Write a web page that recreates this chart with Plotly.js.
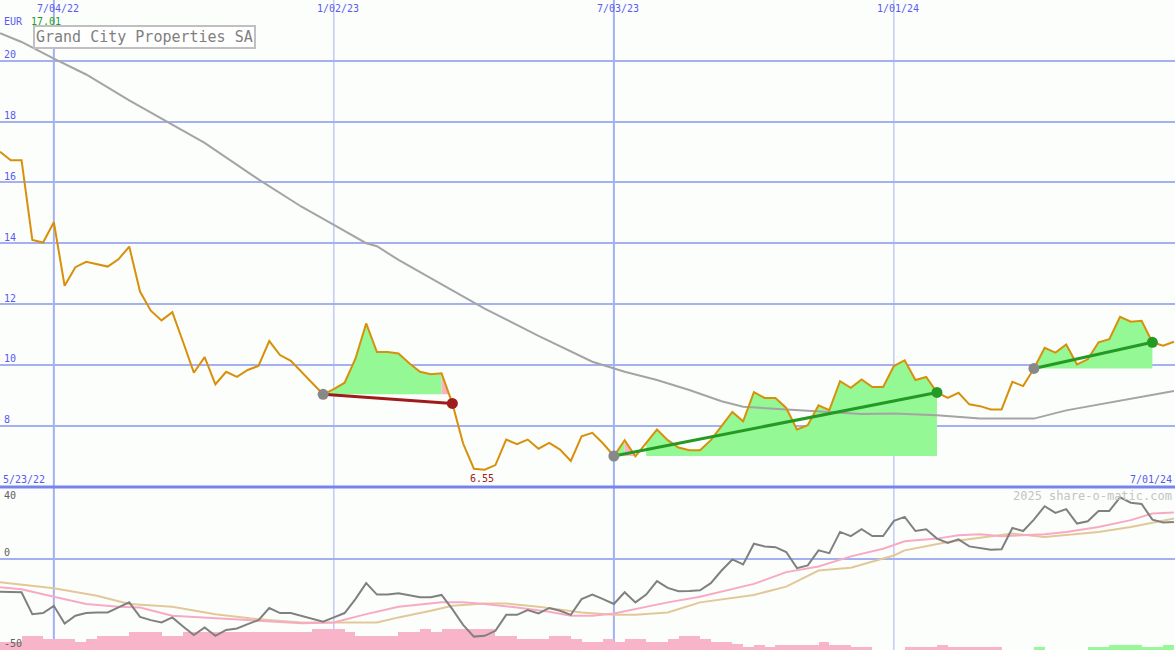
<!DOCTYPE html>
<html><head><meta charset="utf-8">
<script src="https://cdn.plot.ly/plotly-3.0.1.min.js"></script>
<style>html,body{margin:0;padding:0;background:#fcfefc}</style>
</head><body><div id="chart" style="width:1175px;height:650px"></div>
<script>
// ---------- DATA ----------
const startDate = '2022-05-30';           // first weekly observation
const stockName = 'Grand City Properties SA';
const currency = 'EUR';
const price = [17.01,16.73,16.73,14.11,14.02,14.69,12.60,13.21,13.39,13.30,
  13.23,13.47,13.89,12.41,11.78,11.46,11.73,10.75,9.74,10.25,
  9.36,9.77,9.60,9.83,9.96,10.78,10.32,10.13,9.76,9.42,
  9.03,9.20,9.41,10.20,11.36,10.42,10.42,10.37,10.05,9.77,
  9.69,9.72,8.73,7.41,6.58,6.55,6.70,7.54,7.39,7.54,
  7.24,7.43,7.21,6.84,7.65,7.76,7.41,7.00,7.52,6.99,
  7.43,7.87,7.52,7.28,7.19,7.19,7.52,7.98,8.45,8.14,
  9.10,8.91,8.91,8.58,7.87,8.01,8.67,8.51,9.46,9.24,
  9.52,9.27,9.27,9.96,10.15,9.50,9.60,9.09,8.91,9.08,
  8.70,8.64,8.53,8.53,9.44,9.30,9.88,10.56,10.40,10.67,
  10.01,10.18,10.74,10.84,11.58,11.42,11.45,10.74,10.63,10.76];
const maWeeks = [0,2,5,8,12,16,19,24,28,31,34,35,37,42,45,50,55,58,61,64,67,69,73,77,80,83,87,91,96,99,104,109];
const maVals  = [20.91,20.62,20.07,19.55,18.70,17.90,17.30,16.10,15.20,14.60,14.00,13.90,13.45,12.45,11.85,10.95,10.10,9.77,9.50,9.17,8.80,8.62,8.54,8.45,8.38,8.40,8.34,8.23,8.23,8.50,8.82,9.14];
const osc = [-17.8,-18.0,-18.1,-30.2,-29.6,-25.6,-35.4,-31.1,-29.6,-29.3,
  -29.3,-26.5,-23.7,-31.7,-33.5,-34.8,-32.0,-37.0,-41.7,-37.6,
  -42.2,-38.9,-38.1,-35.7,-33.5,-26.8,-29.6,-29.6,-31.1,-33.0,
  -34.4,-32.0,-29.6,-21.9,-13.1,-19.4,-19.4,-18.7,-20.0,-20.9,
  -20.9,-19.6,-27.4,-36.1,-42.6,-42.2,-39.4,-30.6,-30.6,-28.0,
  -29.8,-26.8,-28.3,-30.6,-21.9,-19.4,-21.9,-24.6,-18.1,-23.7,
  -19.4,-12.0,-15.7,-17.6,-17.4,-17.0,-13.1,-6.1,0.0,-2.8,
  8.7,7.2,6.8,4.1,-4.8,-3.3,5.0,3.5,15.2,12.9,
  16.7,12.9,12.9,21.3,23.5,15.7,16.7,11.5,9.1,11.1,
  7.2,6.5,5.4,5.6,17.4,15.7,22.0,29.4,25.7,27.8,
  19.8,21.1,26.8,26.8,34.3,31.3,30.6,22.0,20.4,20.7];
const pinkWeeks = [0,2,5,8,11,13,16,20,24,28,31,34,37,41,43,45,48,51,53,55,57,59,62,65,70,73,76,79,82,84,87,89,91,93,97,99,102,105,107,109];
const pinkVals  = [-15.4,-16.5,-20.6,-24.6,-26.1,-26.5,-31.1,-32.6,-33.9,-35.2,-34.8,-30.2,-26.1,-23.7,-23.7,-24.6,-26.5,-28.9,-31.1,-31.1,-29.8,-27.4,-23.7,-20.6,-13.5,-7.0,-3.9,1.7,5.9,10.0,11.5,13.3,13.9,12.8,13.9,15.2,17.9,21.7,25.4,25.9];
const tanWeeks = [0,5,9,12,16,20,24,28,35,37,40,42,45,47,50,54,57,59,62,65,70,73,76,79,83,84,88,91,94,97,102,105,109];
const tanVals  = [-12.6,-15.9,-20.0,-24.6,-26.1,-30.2,-33.0,-34.8,-34.8,-32.0,-28.3,-25.6,-24.3,-24.3,-26.1,-29.3,-30.6,-30.6,-29.3,-23.7,-19.6,-15.0,-6.1,-4.6,2.2,5.0,9.6,12.0,14.3,12.4,15.2,17.9,22.6];
const hist = [-4.6,-4.6,-7.8,-7.8,-6.3,-6.3,-6.3,-4.6,-6.3,-7.8,
  -7.8,-7.8,-10,-10,-10,-7.8,-7.8,-10,-10,-10,
  -10,-10,-10,-10,-10,-10,-10,-10,-10,-11.8,
  -11.8,-11.8,-10,-7.8,-7.8,-7.8,-7.8,-10,-10,-11.8,
  -10,-11.8,-11.8,-11.8,-11.8,-11.8,-7.8,-7.8,-6.3,-6.3,
  -6.3,-7.8,-7.8,-6.3,-4.4,-4.4,-6.3,-4.4,-6.3,-6.3,
  -4.4,-4.4,-6.3,-7.8,-7.8,-6.3,-4.4,-4.4,-3.3,-1.7,
  -2.8,-1.7,-2.8,-2.8,-2.8,-2.8,-4.4,-2.8,-2.8,-1.7,
  -1.7,0,0,0,-1.7,-1.7,-1.7,-2.8,-1.7,-1.7,
  -1.7,-1.7,-1.7,0,0,0,1.7,0,0,0,
  0,1.7,1.7,2.8,2.8,2.8,1.7,1.7,2.8,0];
const trendStart = [30,57,96];
const trendEnd   = [42,87,107];
const trendColor = ['#a01c1c','#249a24','#249a24'];
// fill segments: [trend, fromWeek, toWeek, kind]
const fillSegs = [[0,30,41,'g'],[0,41,42,'p'],[1,57,58,'g'],[1,58,59,'p'],[1,60,87,'g'],[2,96,107,'g']];
const xTickDates = ['2022-07-04','2023-01-02','2023-07-03','2024-01-01'];
const xTickText  = ['7/04/22','1/02/23','7/03/23','1/01/24'];
const xTickWidth = [2,1,2,1];
const yTicks = [8,10,12,14,16,18,20];
const y2Labels = [40,0,-50];
const rangeStartLabel = '5/23/22', rangeEndLabel = '7/01/24';
const credit = '2025 share-o-matic.com';

// ---------- HELPERS ----------
const DAY = 86400000;
const t0 = Date.parse(startDate + 'T00:00:00Z');
function wd(i){ return new Date(t0 + i*7*DAY).toISOString().slice(0,19).replace('T',' '); }
const weeks = price.map((_,i)=>wd(i));

function fillPoly(a,b,base){
  const xs=[wd(a)], ys=[base];
  for(let i=a;i<=b;i++){
    if(i>a){
      const p0=price[i-1]-base, p1=price[i]-base;
      if(p0*p1<0){ const f=p0/(p0-p1); xs.push(wd(i-1+f)); ys.push(base); }
    }
    xs.push(wd(i)); ys.push(Math.max(price[i],base));
  }
  xs.push(wd(b)); ys.push(base);
  return {xs,ys};
}

const traces = [];
// bottom panel bars
traces.push({type:'bar', x:hist.map((_,i)=>wd(i+0.5)), y:hist.map(v=>Math.abs(v)), base:-50,
  width:7*DAY, marker:{color:hist.map(v=>v<0?'#f8b4c8':'#98f898'), line:{width:0}},
  xaxis:'x', yaxis:'y2', hoverinfo:'skip'});
traces.push({type:'scatter', mode:'lines', x:tanWeeks.map(wd), y:tanVals, line:{color:'#e2c898',width:2}, xaxis:'x', yaxis:'y2'});
traces.push({type:'scatter', mode:'lines', x:pinkWeeks.map(wd), y:pinkVals, line:{color:'#f8aac4',width:2}, xaxis:'x', yaxis:'y2'});
traces.push({type:'scatter', mode:'lines', x:weeks, y:osc, line:{color:'#808080',width:2}, xaxis:'x', yaxis:'y2'});

// fills
fillSegs.forEach(s=>{
  const base = price[trendStart[s[0]]];
  const p = fillPoly(s[1], s[2], base);
  traces.push({type:'scatter', mode:'lines', x:p.xs, y:p.ys, fill:'toself',
    fillcolor: s[3]==='g' ? '#94f894' : '#f8b4c4', line:{width:0}, xaxis:'x', yaxis:'y', hoverinfo:'skip'});
});
// moving average
traces.push({type:'scatter', mode:'lines', x:maWeeks.map(wd), y:maVals, line:{color:'#a4a4a4',width:2}, xaxis:'x', yaxis:'y'});
// price
traces.push({type:'scatter', mode:'lines', x:weeks, y:price, line:{color:'#d8900a',width:2}, xaxis:'x', yaxis:'y'});
// trends
trendStart.forEach((a,k)=>{
  const b = trendEnd[k];
  traces.push({type:'scatter', mode:'lines', x:[wd(a),wd(b)], y:[price[a],price[b]], line:{color:trendColor[k],width:3}, xaxis:'x', yaxis:'y'});
  traces.push({type:'scatter', mode:'markers', x:[wd(a)], y:[price[a]], marker:{color:'#888888',size:11}, xaxis:'x', yaxis:'y'});
  traces.push({type:'scatter', mode:'markers', x:[wd(b)], y:[price[b]], marker:{color:trendColor[k],size:11}, xaxis:'x', yaxis:'y'});
});

const D = 163/650;
const FONT = 'DejaVu Sans Mono';
const BLUE = '#5a5af0';
const shapes = [];
xTickDates.forEach((d,k)=>shapes.push({type:'line', xref:'x', yref:'paper', x0:d, x1:d, y0:0, y1:1,
  line:{color:'#a4b0f0', width:xTickWidth[k]}, layer:'below'}));
shapes.push({type:'line', xref:'paper', yref:'paper', x0:0, x1:1, y0:D, y1:D, line:{color:'#7884ee', width:3}, layer:'below'});

const ann = [];
xTickDates.forEach((d,k)=>ann.push({xref:'x', yref:'paper', x:d, y:1, yanchor:'top', xanchor:'center', yshift:-1, xshift:4,
  text:xTickText[k], showarrow:false, font:{family:FONT,size:10,color:BLUE}}));
yTicks.forEach(v=>ann.push({xref:'paper', yref:'y', x:0, y:v, xanchor:'left', yanchor:'middle', xshift:2, yshift:6,
  text:String(v), showarrow:false, font:{family:FONT,size:10,color:BLUE}}));
ann.push({xref:'paper', yref:'paper', x:0, y:1, xanchor:'left', yanchor:'top', xshift:2, yshift:-14, text:currency, showarrow:false, font:{family:FONT,size:10,color:BLUE}});
ann.push({xref:'paper', yref:'paper', x:0, y:1, xanchor:'left', yanchor:'top', xshift:29, yshift:-14, text:price[0].toFixed(2), showarrow:false, font:{family:FONT,size:10,color:'#22a022'}});
ann.push({xref:'paper', yref:'paper', x:33/1175, y:1-25/650, xanchor:'left', yanchor:'top', text:stockName, showarrow:false,
  font:{family:FONT,size:15,color:'#808080'}, bordercolor:'#c0c0c0', borderwidth:2, borderpad:1, bgcolor:'#ffffff'});
// minimum label
let mi = 0; price.forEach((v,i)=>{ if(v<price[mi]) mi=i; });
ann.push({xref:'x', yref:'y', x:wd(mi), y:price[mi], xanchor:'center', yanchor:'middle', yshift:-9, xshift:-3,
  text:price[mi].toFixed(2), showarrow:false, font:{family:FONT,size:10,color:'#a02020'}});
ann.push({xref:'paper', yref:'paper', x:0, y:D, xanchor:'left', yanchor:'middle', xshift:1, yshift:8, text:rangeStartLabel, showarrow:false, font:{family:FONT,size:10,color:BLUE}});
ann.push({xref:'paper', yref:'paper', x:1, y:D, xanchor:'right', yanchor:'middle', xshift:-1, yshift:8, text:rangeEndLabel, showarrow:false, font:{family:FONT,size:10,color:BLUE}});
ann.push({xref:'paper', yref:'paper', x:1, y:D, xanchor:'right', yanchor:'middle', xshift:-1, yshift:-9, text:credit, showarrow:false, font:{family:FONT,size:12,color:'#c4c4c4'}});
y2Labels.forEach(v=>ann.push({xref:'paper', yref:'y2', x:0, y:v, xanchor:'left', yanchor:'middle', xshift:2, yshift: v===40?-8:7,
  text:String(v), showarrow:false, font:{family:FONT,size:10,color:'#606060'}}));

const layout = {
  width:1175, height:650, margin:{l:0,r:0,t:0,b:0},
  paper_bgcolor:'#fcfefc', plot_bgcolor:'#fcfefc', showlegend:false, bargap:0,
  xaxis:{type:'date', range:[wd(0), new Date(t0+763.7*DAY).toISOString().slice(0,19).replace('T',' ')],
    showgrid:false, showticklabels:false, zeroline:false, showline:false, ticks:'', anchor:'y2'},
  yaxis:{domain:[D,1], range:[5.98,22.0], tickvals:yTicks, showticklabels:false, ticks:'',
    gridcolor:'#a4b0f0', gridwidth:2, zeroline:false, showline:false},
  yaxis2:{domain:[0,D], range:[-50,40], tickvals:[0], showticklabels:false, ticks:'',
    gridcolor:'#a4b0f0', gridwidth:2, zeroline:false, showline:false},
  shapes:shapes, annotations:ann
};
Plotly.newPlot('chart', traces, layout, {staticPlot:true, displayModeBar:false});
</script></body></html>
